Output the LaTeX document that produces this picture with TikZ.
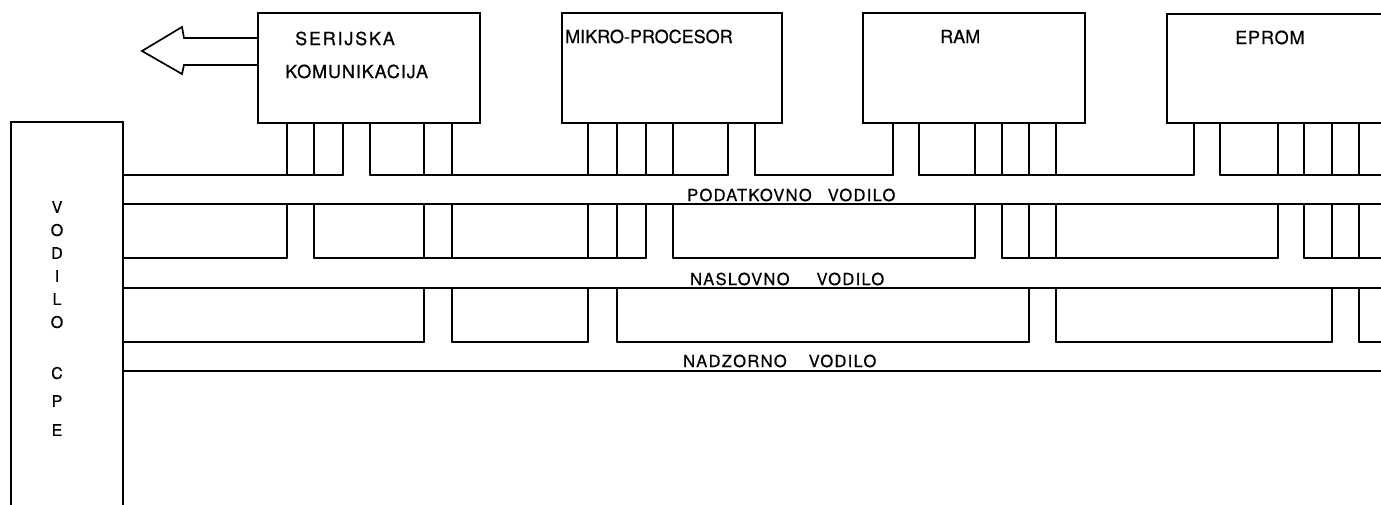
\documentclass[tikz,border=0pt]{standalone}
\usepackage{fontspec}
\newfontfamily\lett[FakeBold=0.6]{TeX Gyre Heros}
\newfontfamily\lettmid[FakeBold=0.6,LetterSpace=5]{TeX Gyre Heros}
\newfontfamily\lettsp[FakeBold=0.6,LetterSpace=10]{TeX Gyre Heros}
\newfontfamily\lettbus[FakeBold=0.6,LetterSpace=8]{TeX Gyre Heros}
\begin{document}
\begin{tikzpicture}[x=1pt,y=-1pt,
  wire/.style={line width=1.7pt, line cap=round, line join=round},
  box/.style={draw, line width=1.7pt, inner sep=0pt, outer sep=0pt, anchor=north west},
  lbl/.style={font=\lett\fontsize{18}{20}\selectfont, inner sep=0pt, anchor=base west},
  buslbl/.style={font=\lettbus\fontsize{16.5}{18}\selectfont, inner sep=0pt, anchor=base west}]
\useasboundingbox (0,0) rectangle (1381,504);
\clip (0,0) rectangle (1381,504);

% boxes
\node[box, minimum width=222pt, minimum height=110pt] (ser) at (258,13) {};
\node[box, minimum width=220pt, minimum height=110pt] (mik) at (562,13) {};
\node[box, minimum width=222pt, minimum height=110pt] (ram) at (863,13) {};
\node[box, minimum width=260pt, minimum height=109pt] (epr) at (1167,14) {};
\node[box, minimum width=112pt, minimum height=420pt] (cpe) at (11,122) {};

% bus line levels and right end
\coordinate (dT) at (0,175);
\coordinate (dB) at (0,204);
\coordinate (aT) at (0,258);
\coordinate (aB) at (0,288);
\coordinate (cT) at (0,342);
\coordinate (cB) at (0,371);
\coordinate (R) at (1395,0);

% data bus
\draw[wire] (cpe.east |- dT) -- (343,0 |- dT)  (370,0 |- dT) -- (728,0 |- dT)
  (755,0 |- dT) -- (893,0 |- dT)  (919,0 |- dT) -- (1194,0 |- dT)  (1220,0 |- dT) -- (R |- dT);
\draw[wire] (cpe.east |- dB) -- (R |- dB);
% address bus
\draw[wire] (cpe.east |- aT) -- (287,0 |- aT)  (314,0 |- aT) -- (646,0 |- aT)
  (673,0 |- aT) -- (975,0 |- aT)  (1002,0 |- aT) -- (1278,0 |- aT)  (1304,0 |- aT) -- (R |- aT);
\draw[wire] (cpe.east |- aB) -- (R |- aB);
% control bus
\draw[wire] (cpe.east |- cT) -- (424,0 |- cT)  (452,0 |- cT) -- (588,0 |- cT)
  (617,0 |- cT) -- (1029,0 |- cT)  (1056,0 |- cT) -- (1332,0 |- cT)  (1359,0 |- cT) -- (R |- cT);
\draw[wire] (cpe.east |- cB) -- (R |- cB);

% data channels
\foreach \bx/\a/\b in {ser/343/370, mik/728/755, ram/893/919, epr/1194/1220}
  \draw[wire] (\a,0 |- \bx.south) -- (\a,0 |- dT)  (\b,0 |- \bx.south) -- (\b,0 |- dT);
% address channels
\foreach \bx/\a/\b in {ser/287/314, mik/646/673, ram/975/1002, epr/1278/1304}
  \draw[wire] (\a,0 |- \bx.south) -- (\a,0 |- dT)  (\b,0 |- \bx.south) -- (\b,0 |- dT)
              (\a,0 |- dB) -- (\a,0 |- aT)  (\b,0 |- dB) -- (\b,0 |- aT);
% control channels
\foreach \bx/\a/\b in {ser/424/452, mik/588/617, ram/1029/1056, epr/1332/1359}
  \draw[wire] (\a,0 |- \bx.south) -- (\a,0 |- dT)  (\b,0 |- \bx.south) -- (\b,0 |- dT)
              (\a,0 |- dB) -- (\a,0 |- aT)  (\b,0 |- dB) -- (\b,0 |- aT)
              (\a,0 |- aB) -- (\a,0 |- cT)  (\b,0 |- aB) -- (\b,0 |- cT);

% hollow arrow out of the serial box
\draw[wire, line join=miter] (ser.west |- 0,38) -- (184,38) -- (182,27) -- (142,51)
  -- (182,74) -- (184,65) -- (ser.west |- 0,65);

% labels
\node[lbl, font=\lettsp\fontsize{18}{20}\selectfont] (tser1) at (295,45) {SERIJSKA};
\node[lbl, font=\lettmid\fontsize{18}{20}\selectfont] (tser2) at (285,78) {KOMUNIKACIJA};
\node[lbl] (tmik) at (565,43) {MIKRO-PROCESOR};
\node[lbl] (tram) at (940,43) {RAM};
\node[lbl, font=\lettmid\fontsize{18}{20}\selectfont] (tepr) at (1235,44) {EPROM};
\node[buslbl] (tdata) at (687,201) {PODATKOVNO\hspace{16pt}VODILO};
\node[buslbl] (taddr) at (690,285) {NASLOVNO\hspace{27pt}VODILO};
\node[buslbl] (tctrl) at (683,367) {NADZORNO\hspace{22pt}VODILO};
\node[font=\lett\fontsize{16}{23}\selectfont, align=center, inner sep=0pt, anchor=north]
  (tcpe) at (57,201) {V\\O\\D\\I\\L\\O\\[28pt]C\\[5pt]P\\[6pt]E};
\end{tikzpicture}
\end{document}
